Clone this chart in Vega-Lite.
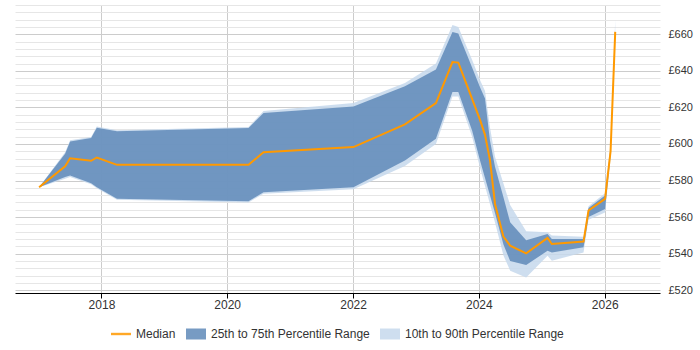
{
  "$schema": "https://vega.github.io/schema/vega-lite/v6.json",
  "width": 645,
  "height": 288,
  "autosize": {"type": "none"},
  "padding": {"left": 15, "top": 5, "right": 40, "bottom": 57},
  "config": {
    "view": {"stroke": null},
    "font": "Liberation Sans",
    "axis": {"labelFont": "Liberation Sans", "labelColor": "#333333"},
    "legend": {
      "labelFont": "Liberation Sans",
      "layout": {"bottom": {"anchor": "middle", "direction": "horizontal"}}
    }
  },
  "data": {
    "values": [
      {"date": "2017-01-04", "p10": 576.3, "p25": 576.3, "median": 576.3, "p75": 576.3, "p90": 576.3},
      {"date": "2017-06-04", "p10": 581.0, "p25": 581.9, "median": 587.8, "p75": 594.6, "p90": 595.5},
      {"date": "2017-07-03", "p10": 582.0, "p25": 582.7, "median": 592.2, "p75": 601.4, "p90": 602.0},
      {"date": "2017-11-02", "p10": 578.0, "p25": 578.5, "median": 590.8, "p75": 603.2, "p90": 603.8},
      {"date": "2017-12-05", "p10": 575.8, "p25": 576.3, "median": 592.6, "p75": 608.9, "p90": 609.5},
      {"date": "2018-04-01", "p10": 569.5, "p25": 570.0, "median": 588.6, "p75": 607.0, "p90": 607.5},
      {"date": "2020-05-04", "p10": 568.0, "p25": 568.7, "median": 588.6, "p75": 608.7, "p90": 609.3},
      {"date": "2020-07-30", "p10": 572.8, "p25": 573.6, "median": 595.5, "p75": 617.0, "p90": 618.0},
      {"date": "2022-01-03", "p10": 575.3, "p25": 576.3, "median": 598.3, "p75": 620.5, "p90": 622.4},
      {"date": "2022-10-29", "p10": 588.0, "p25": 591.0, "median": 610.7, "p75": 631.5, "p90": 633.3},
      {"date": "2023-04-27", "p10": 600.0, "p25": 602.8, "median": 622.4, "p75": 640.7, "p90": 644.0},
      {"date": "2023-08-01", "p10": 626.0, "p25": 628.4, "median": 644.8, "p75": 661.3, "p90": 665.0},
      {"date": "2023-09-04", "p10": 626.0, "p25": 628.4, "median": 644.5, "p75": 660.4, "p90": 664.0},
      {"date": "2023-11-23", "p10": 604.0, "p25": 607.4, "median": 624.7, "p75": 641.8, "p90": 646.0},
      {"date": "2024-01-08", "p10": 587.0, "p25": 591.0, "median": 613.2, "p75": 631.0, "p90": 635.0},
      {"date": "2024-02-06", "p10": 577.0, "p25": 581.4, "median": 605.0, "p75": 624.8, "p90": 629.0},
      {"date": "2024-03-06", "p10": 567.0, "p25": 571.8, "median": 591.0, "p75": 601.8, "p90": 609.0},
      {"date": "2024-04-04", "p10": 557.0, "p25": 562.2, "median": 567.2, "p75": 587.6, "p90": 593.0},
      {"date": "2024-05-23", "p10": 539.0, "p25": 545.0, "median": 549.3, "p75": 570.8, "p90": 578.4},
      {"date": "2024-07-01", "p10": 530.7, "p25": 536.0, "median": 544.4, "p75": 557.2, "p90": 566.6},
      {"date": "2024-10-02", "p10": 527.0, "p25": 533.8, "median": 540.2, "p75": 547.4, "p90": 552.3},
      {"date": "2025-02-03", "p10": 538.9, "p25": 541.6, "median": 548.6, "p75": 550.8, "p90": 551.7},
      {"date": "2025-02-28", "p10": 536.2, "p25": 540.7, "median": 545.3, "p75": 548.0, "p90": 549.9},
      {"date": "2025-08-31", "p10": 540.7, "p25": 543.5, "median": 546.6, "p75": 548.0, "p90": 549.3},
      {"date": "2025-09-29", "p10": 558.5, "p25": 560.0, "median": 563.6, "p75": 565.0, "p90": 566.0},
      {"date": "2026-01-03", "p10": 562.5, "p25": 564.5, "median": 570.0, "p75": 571.8, "p90": 573.0},
      {"date": "2026-02-04", "p10": 592.0, "p25": 594.0, "median": 596.0, "p75": 598.0, "p90": 600.0},
      {"date": "2026-03-03", "p10": 655.0, "p25": 660.0, "median": 661.3, "p75": 662.0, "p90": 668.0}
    ]
  },
  "encoding": {
    "x": {
      "field": "date",
      "type": "temporal",
      "title": null,
      "scale": {"domain": ["2016-08-17", "2026-11-18"]},
      "axis": {
        "values": [
          {"year": 2018, "month": 1, "date": 1},
          {"year": 2020, "month": 1, "date": 1},
          {"year": 2022, "month": 1, "date": 1},
          {"year": 2024, "month": 1, "date": 1},
          {"year": 2026, "month": 1, "date": 1}
        ],
        "tickCount": 20,
        "format": "%Y",
        "labelFontSize": 12,
        "labelPadding": 1,
        "tickSize": 5,
        "tickColor": "#000000",
        "domainColor": "#000000",
        "gridColor": "#cccccc",
        "labelFlush": false
      }
    }
  },
  "layer": [
    {
      "mark": {"type": "area", "opacity": 0.85},
      "encoding": {
        "y": {
          "field": "p10",
          "type": "quantitative",
          "title": null,
          "scale": {"domain": [518.5, 676], "nice": false, "zero": false},
          "axis": {
            "orient": "right",
            "values": [520, 524, 528, 532, 536, 540, 544, 548, 552, 556, 560, 564, 568, 572, 576, 580, 584, 588, 592, 596, 600, 604, 608, 612, 616, 620, 624, 628, 632, 636, 640, 644, 648, 652, 656, 660, 664, 668, 672, 676],
            "tickCount": 100,
            "labelExpr": "datum.value % 20 === 0 ? '£' + datum.value : ''",
            "labelOverlap": false,
            "labelFontSize": 11,
            "labelPadding": 8,
            "ticks": false,
            "domain": false,
            "gridColor": {"condition": {"test": "datum.value % 20 === 0", "value": "#cccccc"}, "value": "#e6e6e6"}
          }
        },
        "y2": {"field": "p90"},
        "color": {
          "datum": "10th to 90th Percentile Range",
          "type": "nominal",
          "scale": {
            "domain": ["Median", "25th to 75th Percentile Range", "10th to 90th Percentile Range"],
            "range": ["#ff9900", "#5f89b8", "#c5d8ec"]
          },
          "legend": {
            "title": null,
            "orient": "bottom",
            "direction": "horizontal",
            "offset": 14,
            "labelFontSize": 12,
            "labelColor": "#333333",
            "labelOffset": 5,
            "columnPadding": 10,
            "symbolSize": 400,
            "symbolStrokeWidth": 0,
            "symbolOpacity": 0.9,
            "symbolType": {"expr": "datum.value === 'Median' ? 'M-1,-0.12H1V0.12H-1Z' : 'M-1,-0.55H1V0.55H-1Z'"}
          }
        }
      }
    },
    {
      "mark": {"type": "area", "opacity": 0.85},
      "encoding": {
        "y": {"field": "p25", "type": "quantitative"},
        "y2": {"field": "p75"},
        "color": {"datum": "25th to 75th Percentile Range", "type": "nominal"}
      }
    },
    {
      "mark": {"type": "line", "strokeWidth": 2},
      "encoding": {
        "y": {"field": "median", "type": "quantitative"},
        "color": {"datum": "Median", "type": "nominal"}
      }
    }
  ]
}
